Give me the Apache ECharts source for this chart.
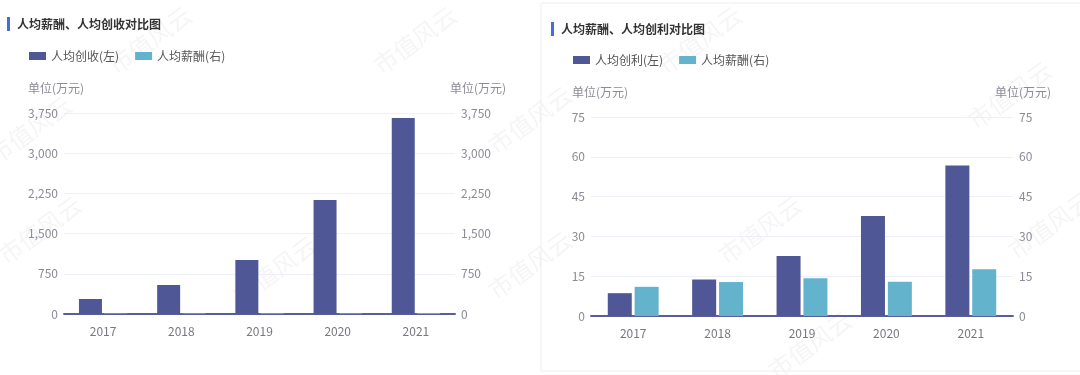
<!DOCTYPE html>
<html><head><meta charset="utf-8">
<script src="https://cdn.jsdelivr.net/npm/echarts@6/dist/echarts.min.js"></script>
<style>html,body{margin:0;padding:0;background:#fff}#c{width:1080px;height:375px}</style>
</head><body><div id="c"></div>
<script>
const years = ['2017','2018','2019','2020','2021'];
const revenuePerCapita = [280, 541, 1007, 2127, 3657];
const salaryPerCapita = [11.0, 12.8, 14.2, 12.9, 17.6];
const profitPerCapita = [8.6, 13.8, 22.6, 37.7, 56.7];
const leftTitle = '人均薪酬、人均创收对比图';
const rightTitle = '人均薪酬、人均创利对比图';
const unitLabel = '单位(万元)';
const nRev = '人均创收(左)', nSal = '人均薪酬(右)', nPro = '人均创利(左)';

const C1 = '#4f5797', C2 = '#63b3cc';
const FONT = '"Noto Sans CJK SC", "Noto Sans", sans-serif';
const chart = echarts.init(document.getElementById('c'));
const fmt = v => v.toLocaleString('en-US');

function yAx(grid, pos, max, interval) {
  return {type:'value', gridIndex:grid, position:pos, min:0, max:max, interval:interval,
    axisLine:{show:false}, axisTick:{show:false},
    axisLabel:{color:'#8b8b96', fontSize:12, fontFamily:FONT, formatter:fmt, margin:6},
    splitLine:{show: pos==='left', lineStyle:{color:'#eef0f8', width:1}}};
}
function xAx(grid) {
  return {type:'category', gridIndex:grid, data:years,
    axisLine:{lineStyle:{color:'#5b5f97', width:2}}, axisTick:{show:false},
    axisLabel:{color:'#77777f', fontSize:12, fontFamily:FONT, margin:11}};
}
const wm = [];
const wmPos = [[415,40],[530,120],[1010,95],[30,130],[40,230],[275,270],[530,265],[760,230],[810,345],[1050,225],[150,40],[700,40]];
wmPos.forEach(p => wm.push({type:'text', x:p[0], y:p[1], rotation:Math.PI/5, silent:true, z:0,
  style:{text:'市值风云', fill:'rgba(120,120,130,0.07)', font:'24px ' + FONT, align:'center', verticalAlign:'middle'}}));

chart.setOption({
  animation:false,
  textStyle:{fontFamily:FONT},
  grid:[
    {left:64, right:625, top:113, bottom:61},
    {left:591, right:67, top:117, bottom:59}
  ],
  legend:[
    {data:[nRev, nSal], left:29, top:50, padding:0, itemWidth:17, itemHeight:8, itemGap:16, icon:'rect',
     textStyle:{color:'#555', fontSize:12, fontFamily:FONT}},
    {data:[nPro, nSal], left:573, top:54, padding:0, itemWidth:17, itemHeight:8, itemGap:16, icon:'rect',
     textStyle:{color:'#555', fontSize:12, fontFamily:FONT}}
  ],
  xAxis:[xAx(0), xAx(1)],
  yAxis:[yAx(0,'left',3750,750), yAx(0,'right',3750,750), yAx(1,'left',75,15), yAx(1,'right',75,15)],
  series:[
    {name:nRev, type:'bar', xAxisIndex:0, yAxisIndex:0, data:revenuePerCapita, barWidth:23, barGap:'10%', itemStyle:{color:C1}},
    {name:nSal, type:'bar', xAxisIndex:0, yAxisIndex:1, data:salaryPerCapita, barWidth:23, barGap:'10%', itemStyle:{color:C2}},
    {name:nPro, type:'bar', xAxisIndex:1, yAxisIndex:2, data:profitPerCapita, barWidth:24, barGap:'12%', itemStyle:{color:C1}},
    {name:nSal, type:'bar', xAxisIndex:1, yAxisIndex:3, data:salaryPerCapita, barWidth:24, barGap:'12%', itemStyle:{color:C2}}
  ],
  graphic: wm.concat([
    {type:'rect', shape:{x:541, y:3, width:545, height:368}, style:{fill:'none', stroke:'#eceef5', lineWidth:1}, silent:true},
    {type:'rect', shape:{x:7, y:17, width:3, height:14}, style:{fill:'#3f6ee8'}},
    {type:'text', x:17, y:24, style:{text:leftTitle, fill:'#333', font:'bold 12px ' + FONT, verticalAlign:'middle'}},
    {type:'rect', shape:{x:551, y:22, width:3, height:14}, style:{fill:'#3f6ee8'}},
    {type:'text', x:561, y:29, style:{text:rightTitle, fill:'#333', font:'bold 12px ' + FONT, verticalAlign:'middle'}},
    {type:'text', x:28, y:88, style:{text:unitLabel, fill:'#8b8b96', font:'12px ' + FONT, verticalAlign:'middle'}},
    {type:'text', x:450, y:88, style:{text:unitLabel, fill:'#8b8b96', font:'12px ' + FONT, verticalAlign:'middle'}},
    {type:'text', x:572, y:92, style:{text:unitLabel, fill:'#8b8b96', font:'12px ' + FONT, verticalAlign:'middle'}},
    {type:'text', x:995, y:92, style:{text:unitLabel, fill:'#8b8b96', font:'12px ' + FONT, verticalAlign:'middle'}}
  ])
});
</script></body></html>
